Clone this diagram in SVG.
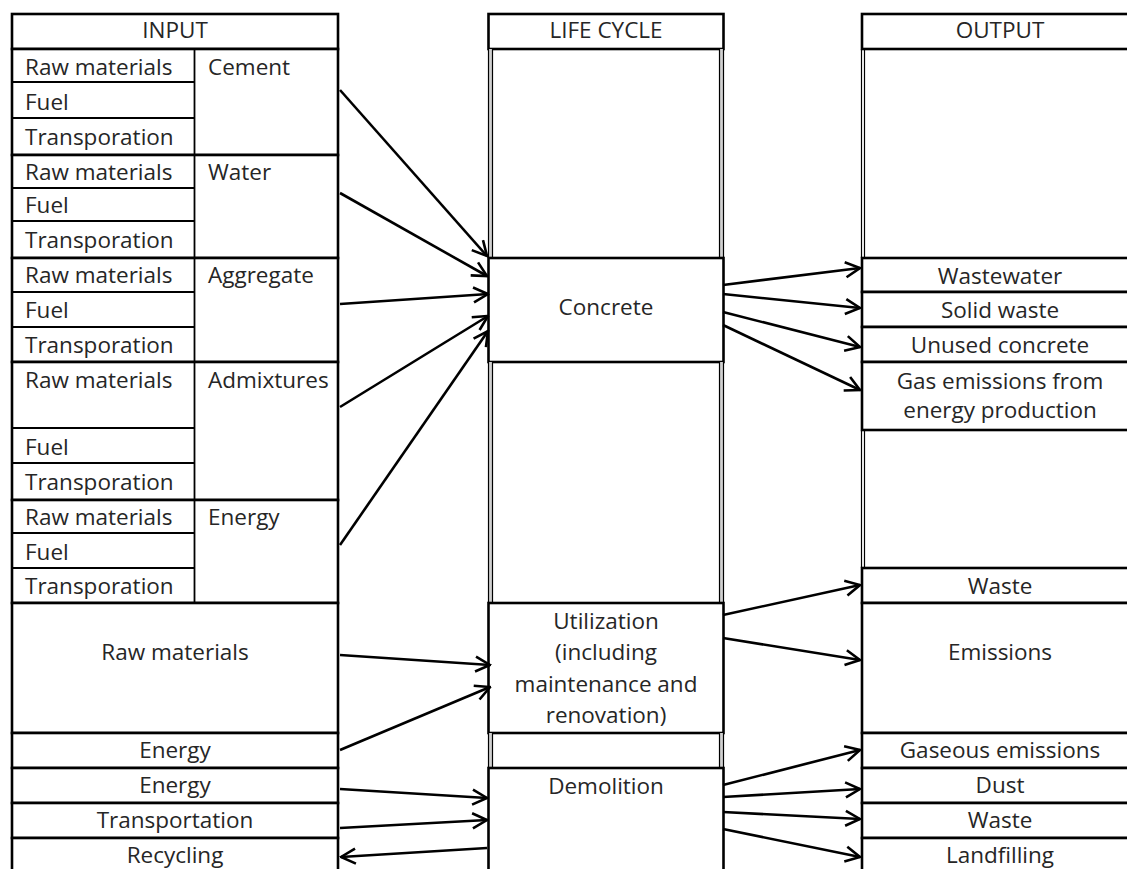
<svg xmlns="http://www.w3.org/2000/svg" width="1127" height="869" viewBox="0 0 1127 869">
<style>
  text { font-family: "Open Sans", "Noto Sans", "Liberation Sans", sans-serif; font-size: 22.5px; fill: #262626; }
  .c { text-anchor: middle; }
  .box { fill: #fff; stroke: #000; stroke-width: 2.6; }
  .sub { stroke: #000; stroke-width: 1.8; fill: none; }
  .thin { stroke: #000; stroke-width: 1.2; fill: none; }
  .gr { fill: #d0d0d0; stroke: none; }
  .conn path { fill: none; stroke: #000; stroke-width: 2.6; marker-end: url(#ah); }
</style>
<defs>
  <marker id="ah" markerUnits="userSpaceOnUse" viewBox="0 0 18 18" refX="16.5" refY="9" markerWidth="18" markerHeight="18" orient="auto">
    <path d="M2,1.5 L16.5,9 L2,16.5" fill="none" stroke="#000" stroke-width="2.6"/>
  </marker>
</defs>
<rect width="1127" height="869" fill="#fff"/>

<!-- INPUT column -->
<g id="input-header"><rect class="box" x="12" y="14" width="326" height="35"/><text class="c" x="175" y="38">INPUT</text></g>
<g id="in-cement">
  <rect class="box" x="12" y="49" width="326" height="106"/>
  <line class="sub" x1="194.5" y1="49" x2="194.5" y2="155"/>
  <line class="sub" x1="12" y1="82" x2="194.5" y2="82"/>
  <line class="sub" x1="12" y1="118" x2="194.5" y2="118"/>
  <text x="25" y="75">Raw materials</text><text x="25" y="110">Fuel</text><text x="25" y="145">Transporation</text>
  <text x="208" y="75">Cement</text>
</g>
<g id="in-water">
  <rect class="box" x="12" y="155" width="326" height="103"/>
  <line class="sub" x1="194.5" y1="155" x2="194.5" y2="258"/>
  <line class="sub" x1="12" y1="188" x2="194.5" y2="188"/>
  <line class="sub" x1="12" y1="221" x2="194.5" y2="221"/>
  <text x="25" y="180">Raw materials</text><text x="25" y="213">Fuel</text><text x="25" y="248">Transporation</text>
  <text x="208" y="180">Water</text>
</g>
<g id="in-aggregate">
  <rect class="box" x="12" y="258" width="326" height="104"/>
  <line class="sub" x1="194.5" y1="258" x2="194.5" y2="362"/>
  <line class="sub" x1="12" y1="292" x2="194.5" y2="292"/>
  <line class="sub" x1="12" y1="327" x2="194.5" y2="327"/>
  <text x="25" y="283">Raw materials</text><text x="25" y="318">Fuel</text><text x="25" y="353">Transporation</text>
  <text x="208" y="283">Aggregate</text>
</g>
<g id="in-admixtures">
  <rect class="box" x="12" y="362" width="326" height="138"/>
  <line class="sub" x1="194.5" y1="362" x2="194.5" y2="500"/>
  <line class="sub" x1="12" y1="428" x2="194.5" y2="428"/>
  <line class="sub" x1="12" y1="463" x2="194.5" y2="463"/>
  <text x="25" y="388">Raw materials</text><text x="25" y="455">Fuel</text><text x="25" y="490">Transporation</text>
  <text x="208" y="388">Admixtures</text>
</g>
<g id="in-energy">
  <rect class="box" x="12" y="500" width="326" height="103"/>
  <line class="sub" x1="194.5" y1="500" x2="194.5" y2="603"/>
  <line class="sub" x1="12" y1="533" x2="194.5" y2="533"/>
  <line class="sub" x1="12" y1="568" x2="194.5" y2="568"/>
  <text x="25" y="525">Raw materials</text><text x="25" y="560">Fuel</text><text x="25" y="594">Transporation</text>
  <text x="208" y="525">Energy</text>
</g>
<g id="in-raw"><rect class="box" x="12" y="603" width="326" height="130"/><text class="c" x="175" y="660">Raw materials</text></g>
<g id="in-energy-use"><rect class="box" x="12" y="733" width="326" height="35"/><text class="c" x="175" y="758">Energy</text></g>
<g id="in-energy-demo"><rect class="box" x="12" y="768" width="326" height="35"/><text class="c" x="175" y="793">Energy</text></g>
<g id="in-transport"><rect class="box" x="12" y="803" width="326" height="35"/><text class="c" x="175" y="828">Transportation</text></g>
<g id="in-recycling"><rect class="box" x="12" y="838" width="326" height="45"/><text class="c" x="175" y="863">Recycling</text></g>

<!-- LIFE CYCLE column -->
<g id="lc-header"><rect class="box" x="488.5" y="14" width="235" height="35"/><text class="c" x="606" y="38">LIFE CYCLE</text></g>
<g id="lc-empty1">
  <rect class="gr" x="489" y="49" width="3" height="209"/><rect class="gr" x="720" y="49" width="3" height="209"/>
  <line class="thin" x1="488.5" y1="49" x2="488.5" y2="258"/><line class="thin" x1="492.5" y1="49" x2="492.5" y2="258"/>
  <line class="thin" x1="719.5" y1="49" x2="719.5" y2="258"/><line class="thin" x1="723.5" y1="49" x2="723.5" y2="258"/>
</g>
<g id="lc-concrete"><rect class="box" x="488.5" y="258" width="235" height="104"/><text class="c" x="606" y="315">Concrete</text></g>
<g id="lc-empty2">
  <rect class="gr" x="489" y="362" width="3" height="241"/><rect class="gr" x="720" y="362" width="3" height="241"/>
  <line class="thin" x1="488.5" y1="362" x2="488.5" y2="603"/><line class="thin" x1="492.5" y1="362" x2="492.5" y2="603"/>
  <line class="thin" x1="719.5" y1="362" x2="719.5" y2="603"/><line class="thin" x1="723.5" y1="362" x2="723.5" y2="603"/>
</g>
<g id="lc-utilization"><rect class="box" x="488.5" y="603" width="235" height="130"/>
  <text class="c" x="606" y="629">Utilization</text><text class="c" x="606" y="660">(including</text><text class="c" x="606" y="692">maintenance and</text><text class="c" x="606" y="723">renovation)</text></g>
<g id="lc-empty3">
  <rect class="gr" x="489" y="733" width="3" height="35"/><rect class="gr" x="720" y="733" width="3" height="35"/>
  <line class="thin" x1="488.5" y1="733" x2="488.5" y2="768"/><line class="thin" x1="492.5" y1="733" x2="492.5" y2="768"/>
  <line class="thin" x1="719.5" y1="733" x2="719.5" y2="768"/><line class="thin" x1="723.5" y1="733" x2="723.5" y2="768"/>
</g>
<g id="lc-demolition"><rect class="box" x="488.5" y="768" width="235" height="115"/><text class="c" x="606" y="794">Demolition</text></g>

<!-- OUTPUT column -->
<g id="out-header"><rect class="box" x="862" y="14" width="290" height="35"/><text class="c" x="1000" y="38">OUTPUT</text></g>
<g id="out-empty1"><line class="thin" x1="861.5" y1="49" x2="861.5" y2="258"/><line class="thin" x1="864.5" y1="49" x2="864.5" y2="258"/></g>
<g id="out-wastewater"><rect class="box" x="862" y="258" width="290" height="34"/><text class="c" x="1000" y="284">Wastewater</text></g>
<g id="out-solid"><rect class="box" x="862" y="292" width="290" height="35"/><text class="c" x="1000" y="318">Solid waste</text></g>
<g id="out-unused"><rect class="box" x="862" y="327" width="290" height="35"/><text class="c" x="1000" y="353">Unused concrete</text></g>
<g id="out-gas"><rect class="box" x="862" y="362" width="290" height="68"/><text class="c" x="1000" y="389">Gas emissions from</text><text class="c" x="1000" y="418">energy production</text></g>
<g id="out-empty2"><line class="thin" x1="861.5" y1="430" x2="861.5" y2="568"/><line class="thin" x1="864.5" y1="430" x2="864.5" y2="568"/></g>
<g id="out-waste1"><rect class="box" x="862" y="568" width="290" height="35"/><text class="c" x="1000" y="594">Waste</text></g>
<g id="out-emissions"><rect class="box" x="862" y="603" width="290" height="130"/><text class="c" x="1000" y="660">Emissions</text></g>
<g id="out-gaseous"><rect class="box" x="862" y="733" width="290" height="35"/><text class="c" x="1000" y="758">Gaseous emissions</text></g>
<g id="out-dust"><rect class="box" x="862" y="768" width="290" height="35"/><text class="c" x="1000" y="793">Dust</text></g>
<g id="out-waste2"><rect class="box" x="862" y="803" width="290" height="35"/><text class="c" x="1000" y="828">Waste</text></g>
<g id="out-landfilling"><rect class="box" x="862" y="838" width="290" height="45"/><text class="c" x="1000" y="863">Landfilling</text></g>

<!-- connectors -->
<g id="connectors" class="conn">
  <path d="M340,90 L487,256"/>
  <path d="M340,193 L487,276"/>
  <path d="M340,304 L488,294"/>
  <path d="M340,407 L488,316"/>
  <path d="M340,545 L488,331"/>
  <path d="M340,655 L490,665"/>
  <path d="M340,750 L490,687"/>
  <path d="M340,789 L487,798"/>
  <path d="M340,828 L487,820"/>
  <path d="M487,848 L341,857"/>
  <path d="M723,285 L860,268"/>
  <path d="M723,294 L860,308"/>
  <path d="M723,312 L860,347"/>
  <path d="M723,325 L860,390"/>
  <path d="M723,615 L860,585"/>
  <path d="M723,638 L860,660"/>
  <path d="M723,785 L860,750"/>
  <path d="M723,797 L860,789"/>
  <path d="M723,812 L860,819"/>
  <path d="M723,829 L860,857"/>
</g>
</svg>
